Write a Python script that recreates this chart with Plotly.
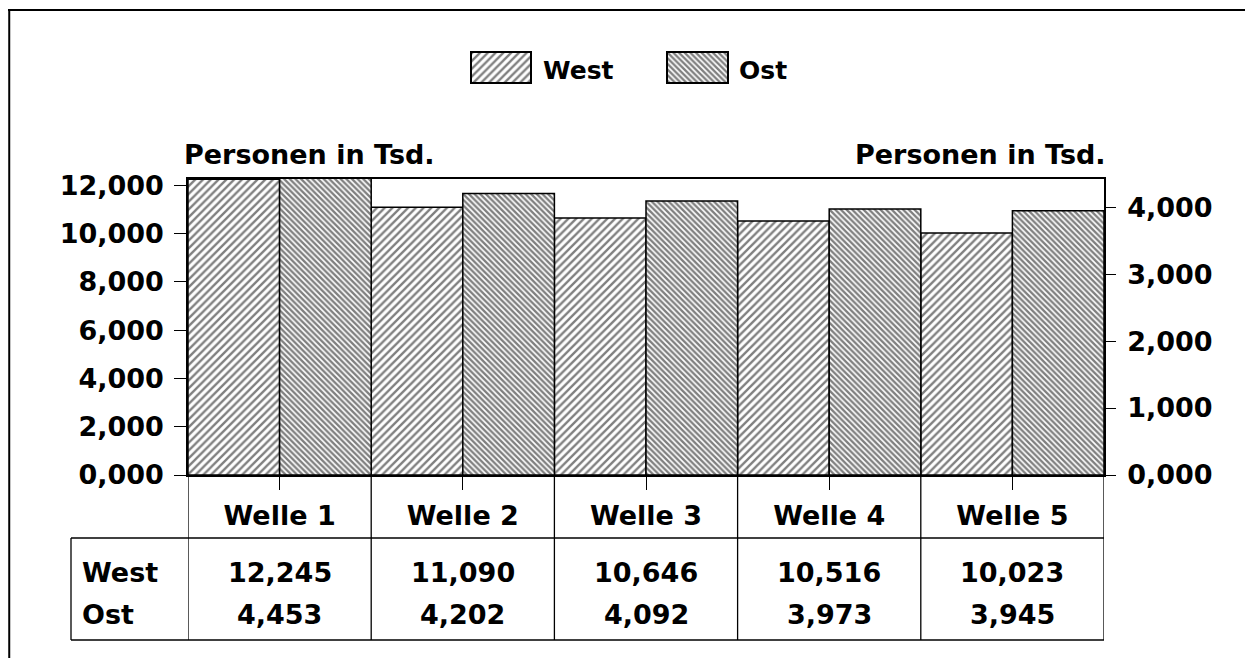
import plotly.graph_objects as go

# ---- data ----
categories = ["Welle 1", "Welle 2", "Welle 3", "Welle 4", "Welle 5"]
series_names = ["West", "Ost"]
west = [12.245, 11.090, 10.646, 10.516, 10.023]
ost = [4.453, 4.202, 4.092, 3.973, 3.945]
left_ticks = [0, 2, 4, 6, 8, 10, 12]
right_ticks = [0, 1, 2, 3, 4]
axis_title = "Personen in Tsd."

# page body has an 8px margin; figure sized to fit inside the 1253x666 window
OFF = 8
W, H = 1253 - 2 * OFF, 666 - 2 * OFF
FONT = "DejaVu Sans"
FS = 27
FW = "bold"


def px(x):
    """screen x (reference pixels) -> paper fraction"""
    return (x - OFF) / W


def py(y):
    """screen y (reference pixels) -> paper fraction"""
    return (H - (y - OFF)) / H


def de(v):
    return f"{v:.3f}".replace(".", ",")


west_pat = dict(shape="/", fgcolor="black", bgcolor="white", size=5.5, solidity=0.42)
ost_pat = dict(shape="\\", fgcolor="black", bgcolor="white", size=4, solidity=0.58)

fig = go.Figure()
fig.add_trace(go.Bar(
    x=categories, y=west, name=series_names[0], width=0.5, offset=-0.5,
    marker=dict(color="white", pattern=west_pat, line=dict(color="black", width=1.5)),
    yaxis="y", showlegend=False,
))
fig.add_trace(go.Bar(
    x=categories, y=ost, name=series_names[1], width=0.5, offset=0.0,
    marker=dict(color="white", pattern=ost_pat, line=dict(color="black", width=1.5)),
    yaxis="y2", showlegend=False,
))

# legend swatches drawn on small hidden axes
fig.add_trace(go.Bar(x=[0], y=[1], width=1, xaxis="x3", yaxis="y3", showlegend=False,
                     marker=dict(color="white", pattern=west_pat, line=dict(width=0)),
                     hoverinfo="skip"))
fig.add_trace(go.Bar(x=[0], y=[1], width=1, xaxis="x4", yaxis="y4", showlegend=False,
                     marker=dict(color="white", pattern=ost_pat, line=dict(width=0)),
                     hoverinfo="skip"))

x0, x1 = 188, 1104
ytop, ybot = 179, 475

tickfont = dict(family=FONT, size=FS, color="black", weight=FW)
axis_common = dict(showline=True, linecolor="black", linewidth=1.5, showgrid=False,
                   zeroline=False, ticks="outside", tickcolor="black", tickwidth=1.2,
                   tickfont=tickfont, automargin=False)

swatch_axis = dict(showline=True, mirror=True, linecolor="black", linewidth=1.5,
                   showgrid=False, zeroline=False, showticklabels=False, ticks="",
                   fixedrange=True, automargin=False)

fig.update_layout(
    width=W, height=H,
    autosize=False,
    margin=dict(l=0, r=0, t=0, b=0, pad=0),
    paper_bgcolor="white", plot_bgcolor="white",
    separators=",.",
    barmode="overlay",
    showlegend=False,
    font=dict(family=FONT, size=FS, color="black", weight=FW),
    xaxis=dict(domain=[px(x0), px(x1)], range=[-0.5, 4.5], type="category",
               mirror=True, ticklen=13, ticklabelstandoff=3, **axis_common),
    yaxis=dict(domain=[py(ybot), py(ytop)], range=[0, 12.26], tickvals=left_ticks,
               tickformat=".3f", ticklen=12, ticklabelstandoff=5, mirror=False,
               **axis_common),
    yaxis2=dict(overlaying="y", side="right", range=[0, 4.42], tickvals=right_ticks,
                tickformat=".3f", ticklen=10, ticklabelstandoff=6, **axis_common),
    xaxis3=dict(domain=[px(472), px(530)], range=[-0.5, 0.5], anchor="y3", **swatch_axis),
    yaxis3=dict(domain=[py(82), py(53)], range=[0, 1], anchor="x3", **swatch_axis),
    xaxis4=dict(domain=[px(668), px(727)], range=[-0.5, 0.5], anchor="y4", **swatch_axis),
    yaxis4=dict(domain=[py(82), py(53)], range=[0, 1], anchor="x4", **swatch_axis),
)

ann = []
legfont = dict(family=FONT, size=25, color="black", weight=FW)
# legend labels
ann.append(dict(text=series_names[0], x=px(541), y=py(70), xref="paper", yref="paper",
                xanchor="left", yanchor="middle", showarrow=False, font=legfont))
ann.append(dict(text=series_names[1], x=px(737), y=py(70), xref="paper", yref="paper",
                xanchor="left", yanchor="middle", showarrow=False, font=legfont))
# axis titles
ann.append(dict(text=axis_title, x=px(182), y=py(154), xref="paper", yref="paper",
                xanchor="left", yanchor="middle", showarrow=False))
ann.append(dict(text=axis_title, x=px(1108), y=py(154), xref="paper", yref="paper",
                xanchor="right", yanchor="middle", showarrow=False))
# table
ann.append(dict(text=series_names[0], x=px(80), y=py(572), xref="paper", yref="paper",
                xanchor="left", yanchor="middle", showarrow=False))
ann.append(dict(text=series_names[1], x=px(80), y=py(614), xref="paper", yref="paper",
                xanchor="left", yanchor="middle", showarrow=False))
for c, w, o in zip(categories, west, ost):
    ann.append(dict(text=de(w), x=c, y=py(572), xref="x", yref="paper",
                    xanchor="center", yanchor="middle", showarrow=False))
    ann.append(dict(text=de(o), x=c, y=py(614), xref="x", yref="paper",
                    xanchor="center", yanchor="middle", showarrow=False))
fig.update_layout(annotations=ann)

line = dict(color="black", width=1.3)
shapes = []
# table vertical lines at category boundaries
for i in range(len(categories) + 1):
    xb = i - 0.5
    shapes.append(dict(type="line", xref="x", yref="paper", x0=xb, x1=xb,
                       y0=py(ybot), y1=py(640), line=line))
# left label column
shapes.append(dict(type="line", xref="paper", yref="paper", x0=px(71), x1=px(71),
                   y0=py(538), y1=py(640), line=line))
shapes.append(dict(type="line", xref="paper", yref="paper", x0=px(71), x1=px(x1),
                   y0=py(538), y1=py(538), line=line))
shapes.append(dict(type="line", xref="paper", yref="paper", x0=px(71), x1=px(x1),
                   y0=py(640), y1=py(640), line=line))
# outer frame (top and left edges visible)
shapes.append(dict(type="line", xref="paper", yref="paper", x0=0.0, x1=1.0,
                   y0=py(10), y1=py(10), line=dict(color="black", width=2)))
shapes.append(dict(type="line", xref="paper", yref="paper", x0=0.001, x1=0.001,
                   y0=py(10), y1=0.0, line=dict(color="black", width=2)))
fig.update_layout(shapes=shapes)

fig.write_html("out.html")
